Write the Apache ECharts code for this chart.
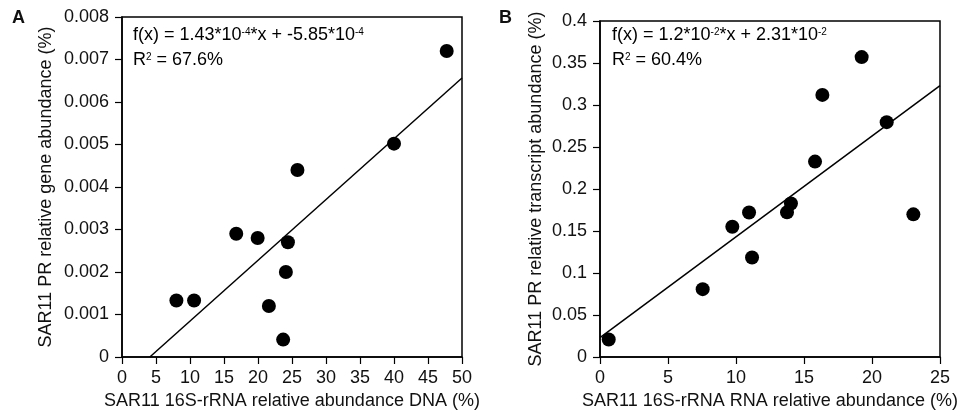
<!DOCTYPE html>
<html><head><meta charset="utf-8">
<script src="https://cdn.jsdelivr.net/npm/echarts@6/dist/echarts.min.js"></script>
<style>html,body{margin:0;padding:0;background:#fff}#c{width:977px;height:415px}</style>
</head><body><div id="c"></div>
<script>
// Panel A data
const dnaX = [47.75, 40.0, 25.8, 16.8, 19.95, 24.4, 24.1, 8.0, 10.6, 21.6, 23.7];
const geneY = [0.0072, 0.00502, 0.0044, 0.0029, 0.0028, 0.0027, 0.0020, 0.00133, 0.00133, 0.0012, 0.00041];
const fitA = { slope: 1.43e-4, intercept: -5.85e-4 };
const xTicksA = [0, 5, 10, 15, 20, 25, 30, 35, 40, 45, 50];
const yTicksA = [0, 0.001, 0.002, 0.003, 0.004, 0.005, 0.006, 0.007, 0.008];
// Panel B data
const rnaX = [19.24, 16.35, 21.08, 15.81, 14.04, 13.75, 10.96, 9.73, 11.18, 7.55, 0.64, 23.04];
const transcriptY = [0.357, 0.312, 0.2796, 0.2326, 0.1827, 0.1722, 0.172, 0.155, 0.1184, 0.0808, 0.0208, 0.1698];
const fitB = { slope: 1.2e-2, intercept: 2.31e-2 };
const xTicksB = [0, 5, 10, 15, 20, 25];
const yTicksB = [0, 0.05, 0.1, 0.15, 0.2, 0.25, 0.3, 0.35, 0.4];

const FONT = 'Liberation Sans, Arial, Helvetica, sans-serif';
const FS = 18;
const pairs = (xs, ys) => xs.map((x, i) => [x, ys[i]]);
function fitLine(fit, x0, x1) {
  let xs = x0;
  const y0 = fit.slope * x0 + fit.intercept;
  if (y0 < 0) xs = -fit.intercept / fit.slope;
  return [[xs, fit.slope * xs + fit.intercept], [x1, fit.slope * x1 + fit.intercept]];
}
function fmtNum(v) { return String(+v.toFixed(4)); }

function xAxis(idx, ticks, name, gap) {
  return {
    type: 'value', gridIndex: idx, min: ticks[0], max: ticks[ticks.length - 1],
    interval: ticks[1] - ticks[0], name: name, nameLocation: 'middle', nameGap: gap,
    nameTextStyle: { fontFamily: FONT, fontSize: FS, color: '#111' },
    axisLine: { lineStyle: { color: '#000', width: 1.5 } },
    axisTick: { show: true, length: 7, lineStyle: { color: '#000', width: 1.2 } },
    axisLabel: { fontFamily: FONT, fontSize: FS, color: '#111', margin: 12, formatter: fmtNum },
    splitLine: { show: false }
  };
}
function yAxis(idx, ticks, name, gap) {
  return {
    type: 'value', gridIndex: idx, min: ticks[0], max: ticks[ticks.length - 1],
    interval: +(ticks[1] - ticks[0]).toFixed(6), name: name, nameLocation: 'middle', nameGap: gap,
    nameTextStyle: { fontFamily: FONT, fontSize: FS, color: '#111' },
    axisLine: { lineStyle: { color: '#000', width: 1.5 } },
    axisTick: { show: true, length: 7, lineStyle: { color: '#000', width: 1.2 } },
    axisLabel: { fontFamily: FONT, fontSize: FS, color: '#111', margin: 13, formatter: fmtNum },
    splitLine: { show: false }
  };
}
const rich = {
  n: { fontFamily: FONT, fontSize: 18, color: '#111', lineHeight: 25 },
  s: { fontFamily: FONT, fontSize: 10, color: '#111', verticalAlign: 'top', padding: [5, 0, 0, 0] }
};

const chart = echarts.init(document.getElementById('c'), null, { renderer: 'canvas' });
chart.setOption({
  animation: false,
  backgroundColor: '#fff',
  grid: [
    { left: 122, top: 17, width: 340, height: 341, show: true, borderColor: '#000', borderWidth: 1.5 },
    { left: 600, top: 21, width: 340, height: 340, show: true, borderColor: '#000', borderWidth: 1.5 }
  ],
  xAxis: [
    xAxis(0, xTicksA, 'SAR11 16S-rRNA relative abundance DNA (%)', 35),
    xAxis(1, xTicksB, 'SAR11 16S-rRNA RNA relative abundance (%)', 35)
  ],
  yAxis: [
    yAxis(0, yTicksA, 'SAR11 PR relative gene abundance (%)', 67),
    yAxis(1, yTicksB, 'SAR11 PR relative transcript abundance (%)', 55)
  ],
  graphic: [
    { type: 'text', left: 12, top: 9, style: { text: 'A', font: 'bold 18px ' + FONT, fill: '#111' } },
    { type: 'text', left: 499, top: 9, style: { text: 'B', font: 'bold 18px ' + FONT, fill: '#111' } },
    { type: 'text', left: 133, top: 26, style: { text: '{n|f(x) = 1.43*10}{s|-4}{n|*x + -5.85*10}{s|-4}\n{n|R}{s|2}{n| = 67.6%}', rich: rich } },
    { type: 'text', left: 612, top: 26, style: { text: '{n|f(x) = 1.2*10}{s|-2}{n|*x + 2.31*10}{s|-2}\n{n|R}{s|2}{n| = 60.4%}', rich: rich } }
  ],
  series: [
    { type: 'line', xAxisIndex: 0, yAxisIndex: 0, data: fitLine(fitA, 0, 50), symbol: 'none', lineStyle: { color: '#000', width: 1.5 }, silent: true },
    { type: 'scatter', xAxisIndex: 0, yAxisIndex: 0, data: pairs(dnaX, geneY), symbolSize: 14, itemStyle: { color: '#000', opacity: 1 } },
    { type: 'line', xAxisIndex: 1, yAxisIndex: 1, data: fitLine(fitB, 0, 25), symbol: 'none', lineStyle: { color: '#000', width: 1.5 }, silent: true },
    { type: 'scatter', xAxisIndex: 1, yAxisIndex: 1, data: pairs(rnaX, transcriptY), symbolSize: 14, itemStyle: { color: '#000', opacity: 1 } }
  ]
});
</script></body></html>
